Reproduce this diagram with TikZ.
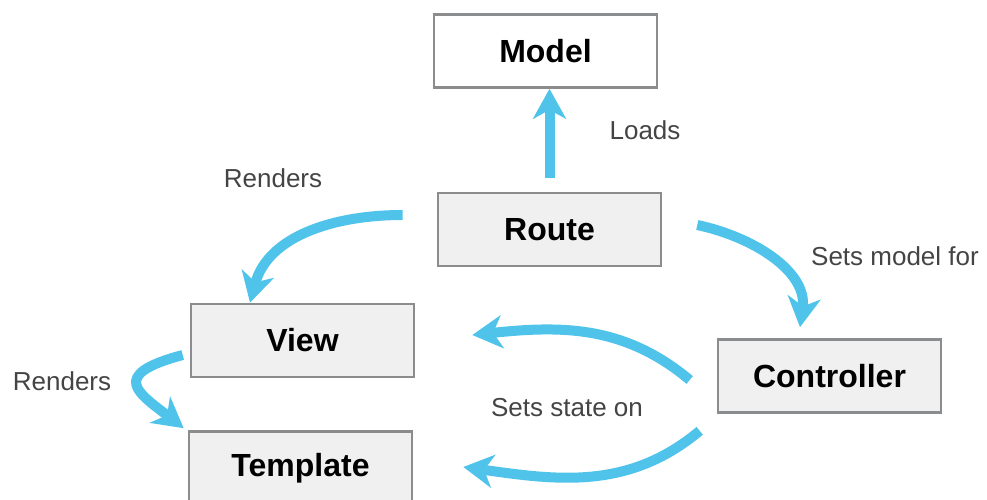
\documentclass[tikz,border=0pt]{standalone}
\usepackage{fontspec}
\setmainfont{Liberation Sans}
\usetikzlibrary{arrows.meta,positioning}

\definecolor{flow}{HTML}{4FC3EA}
\definecolor{edge}{HTML}{8A8C8E}
\definecolor{boxfill}{HTML}{F0F0F0}
\definecolor{note}{HTML}{444444}

\begin{document}
\begin{tikzpicture}[x=1pt,y=1pt]
  \tikzstyle{block}=[draw=edge,line width=2.6pt,minimum width=223pt,minimum height=73pt,
                     inner sep=0pt,font=\fontsize{32}{35}\selectfont\bfseries]
  \tikzstyle{link}=[draw=flow,line width=10pt,
                    -{Stealth[length=30pt,width=33pt,inset=9pt]}]
  \tikzstyle{label}=[text=note,font=\fontsize{26}{30}\selectfont]

  \useasboundingbox (0,0) rectangle (987,500);

  \node[block,fill=white] (model) at (545.5,449) {Model};

  \foreach \name/\x/\y/\text in {route/549.5/270.5/Route, view/302.5/159.5/View,
                                 template/300.5/32/Template, controller/829.5/124/Controller}
    \node[block,fill=boxfill] (\name) at (\x,\y) {\text};

  % loose ends of the arrows
  \coordinate (route-t) at ([yshift=14pt]route.north);
  \coordinate (route-l) at ([xshift=-34pt,yshift=14.5pt]route.west);
  \coordinate (route-r) at ([xshift=35pt,yshift=4.5pt]route.east);
  \coordinate (ctrl-t)  at ([xshift=-27pt,yshift=-4pt]controller.west);
  \coordinate (ctrl-b)  at ([xshift=-17pt,yshift=-17pt]controller.south west);
  \coordinate (view-l)  at ([xshift=-7pt,yshift=-14.5pt]view.west);

  \draw[link] (route-t) -- ([xshift=4pt]model.south);
  \draw[link] (route-l) to[out=180,in=75] ([xshift=-52.5pt]view.north);
  \draw[link] (route-r) to[out=-12,in=82] ([xshift=-29.5pt,yshift=11pt]controller.north);
  \draw[link] (ctrl-t) to[out=140,in=6] ([xshift=57pt,yshift=5.5pt]view.east);
  \draw[link] (ctrl-b) to[out=-140,in=-8] ([xshift=50pt,yshift=1pt]template.east);
  \draw[link] (view-l) .. controls +(-75,-20) and +(-45,35) .. ([xshift=-4pt,yshift=2pt]template.north west);

  \node[label] (loads) at (645,370) {Loads};
  \node[label] (renders-r) at (273,322) {Renders};
  \node[label] (sets-model) at (895,244) {Sets model for};
  \node[label] (sets-state) at (567,92) {Sets state on};
  \node[label] (renders-v) at (62,119) {Renders};
\end{tikzpicture}
\end{document}
